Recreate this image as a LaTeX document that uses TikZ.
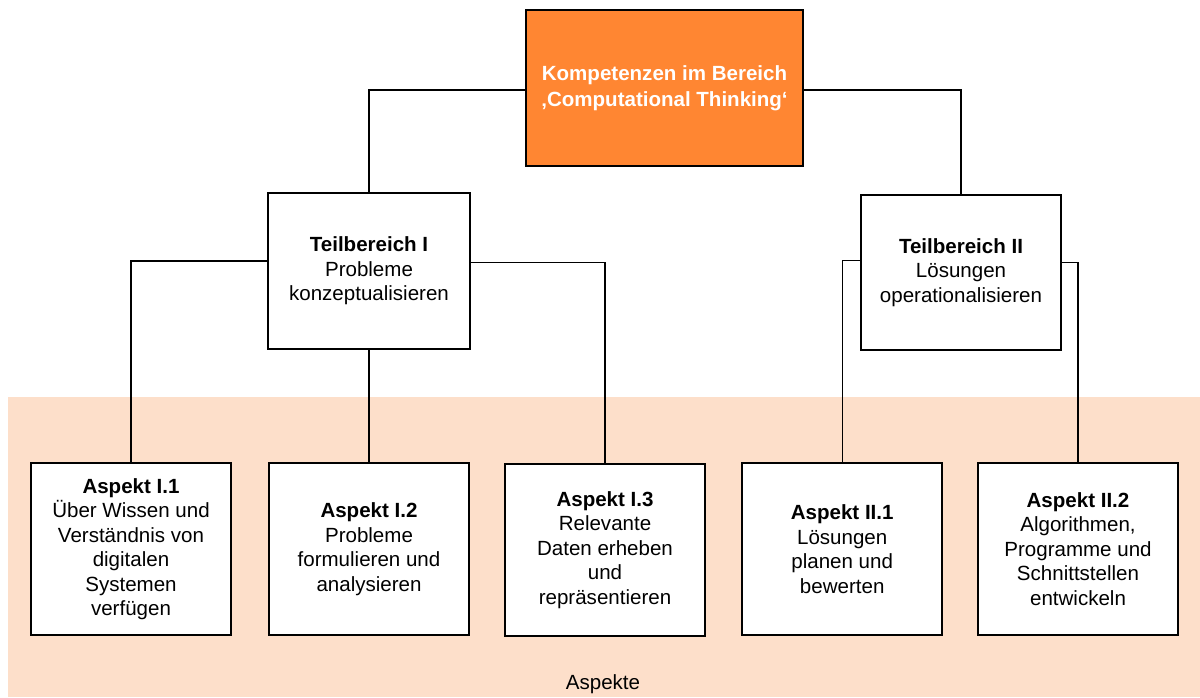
\documentclass[tikz,border=0pt]{standalone}
\usepackage{fontspec}
\setmainfont{Liberation Sans}
\definecolor{ctorange}{RGB}{255,134,50}
\definecolor{ctpeach}{RGB}{253,223,202}
\begin{document}
\begin{tikzpicture}[x=0.025cm,y=-0.025cm,
  every node/.style={align=center,inner sep=0,font=\fontsize{14.6}{17.4}\selectfont},
  box/.style={draw,line width=1.1pt,fill=white,minimum width=5cm,minimum height=4.3cm},
  link/.style={line width=0.8pt}]
    \useasboundingbox (0,0) rectangle (1200,697);
    \fill[ctpeach] (8,397) rectangle (1200,697);
    \node (asp) at (603,684) {Aspekte};

    \node[box,fill=ctorange,text=white,minimum width=6.925cm,minimum height=3.9cm] (top) at (664.5,88)
        {\textbf{Kompetenzen im Bereich}\\[1pt]\textbf{‚Computational Thinking‘}};
    \node[box,minimum width=5.05cm,minimum height=3.9cm] (tb1) at (369,271)
        {\textbf{Teilbereich I}\\Probleme\\konzeptualisieren};
    \node[box,minimum height=3.875cm] (tb2) at (961,272.5)
        {\textbf{Teilbereich II}\\Lösungen\\operationalisieren};

    \node[box] (a11) at (131,549) {\textbf{Aspekt I.1}\\Über Wissen und\\Verständnis von\\digitalen\\Systemen\\verfügen};
    \node[box] (a12) at (369,549) {\textbf{Aspekt I.2}\\Probleme\\formulieren und\\analysieren};
    \node[box] (a13) at (605,550) {\textbf{Aspekt I.3}\\Relevante\\Daten erheben\\und\\repräsentieren};
    \node[box] (a21) at (842.2,549) {\textbf{Aspekt II.1}\\Lösungen\\planen und\\bewerten};
    \node[box] (a22) at (1078,549) {\textbf{Aspekt II.2}\\Algorithmen,\\Programme und\\Schnittstellen\\entwickeln};

    \draw[link] ([yshift=-0.05cm]top.west) -| (tb1.north);
    \draw[link] ([yshift=-0.05cm]top.east) -| (tb2.north);
    \draw[link] ([yshift=0.25cm]tb1.west) -| (a11.north);
    \draw[link] (tb1.south) -- (a12.north);
    \draw[link] ([yshift=0.22cm]tb1.east) -| (a13.north);
    \draw[link] ([yshift=0.29cm]tb2.west) -| (a21.north);
    \draw[link] ([yshift=0.26cm]tb2.east) -| (a22.north);
\end{tikzpicture}
\end{document}
